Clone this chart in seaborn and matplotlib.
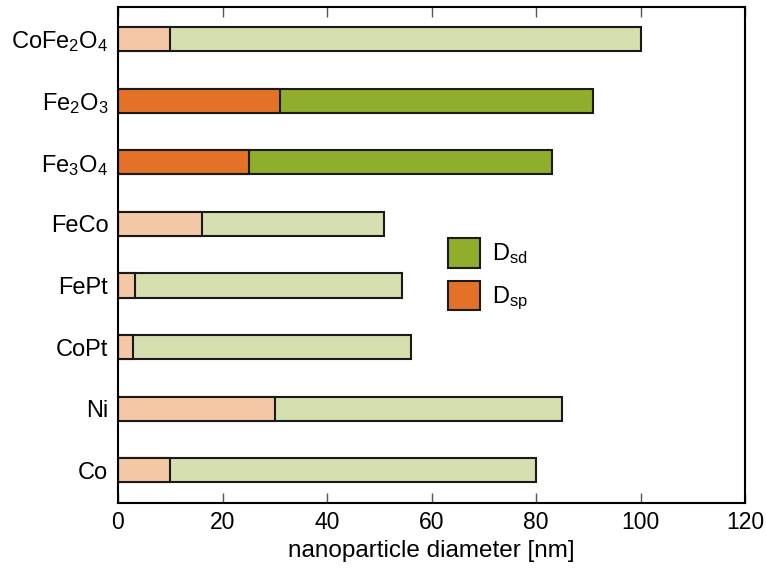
import matplotlib
matplotlib.use("Agg")
import matplotlib.pyplot as plt
from matplotlib.patches import Patch
import seaborn as sns
import pandas as pd

materials = ["CoFe$_2$O$_4$", "Fe$_2$O$_3$", "Fe$_3$O$_4$", "FeCo", "FePt", "CoPt", "Ni", "Co"]
d_sd = [100, 91, 83, 51, 54.3, 56, 85, 80]
d_sp = [10, 31, 25, 16, 3.2, 2.8, 30, 10]
highlight = [False, True, True, False, False, False, False, False]
x_ticks = [0, 20, 40, 60, 80, 100, 120]
legend_labels = ["D$_{sd}$", "D$_{sp}$"]
xlabel = "nanoparticle diameter [nm]"

sns.set_theme(style="white")
plt.rcParams["font.family"] = ["Liberation Sans", "DejaVu Sans"]
plt.rcParams["mathtext.default"] = "regular"
plt.rcParams["text.color"] = "black"
plt.rcParams["xtick.color"] = "black"
plt.rcParams["ytick.color"] = "black"
plt.rcParams["axes.labelcolor"] = "black"

DARK_G, LIGHT_G = "#8FAE2C", "#D5DFB0"
DARK_O, LIGHT_O = "#E37228", "#F4C7A5"

df = pd.DataFrame({"name": materials, "sd": d_sd, "sp": d_sp})
pal_sd = {m: (DARK_G if h else LIGHT_G) for m, h in zip(materials, highlight)}
pal_sp = {m: (DARK_O if h else LIGHT_O) for m, h in zip(materials, highlight)}

fig = plt.figure(figsize=(7.66, 5.72), dpi=100)
ax = fig.add_axes([118 / 766, 69 / 572, 627 / 766, 496 / 572])

common = dict(y="name", hue="name", legend=False, width=0.39, edgecolor="#1a1a1a",
              linewidth=1.5, orient="h", ax=ax, dodge=False, saturation=1)
sns.barplot(data=df, x="sd", palette=pal_sd, **common)
sns.barplot(data=df, x="sp", palette=pal_sp, **common)

ax.set_xlim(0, 120)
ax.set_ylim(7.53, -0.52)
ax.set_xticks(x_ticks)
ax.set_xticklabels([str(t) for t in x_ticks], fontsize=16.5)
ax.tick_params(axis="x", direction="in", length=7, width=1, top=True, bottom=True,
               labeltop=False, pad=6, color="#555555")
ax.tick_params(axis="y", length=0, labelsize=17, pad=7)
ax.set_ylabel("")
ax.set_xlabel(xlabel, fontsize=17.5, labelpad=4)
for s in ax.spines.values():
    s.set_visible(True)
    s.set_linewidth(1.5)
    s.set_color("black")

handles = [Patch(facecolor=DARK_G, edgecolor="#1a1a1a", linewidth=1.5),
           Patch(facecolor=DARK_O, edgecolor="#1a1a1a", linewidth=1.5)]
ax.legend(handles, legend_labels, loc="upper left", bbox_to_anchor=(448 / 766, 1 - 238 / 572),
          bbox_transform=fig.transFigure, borderpad=0, borderaxespad=0,
          frameon=False, fontsize=17, handlelength=1.35, handleheight=1.55,
          handletextpad=0.5, labelspacing=0.55)

fig.savefig("out.png", dpi=100)
